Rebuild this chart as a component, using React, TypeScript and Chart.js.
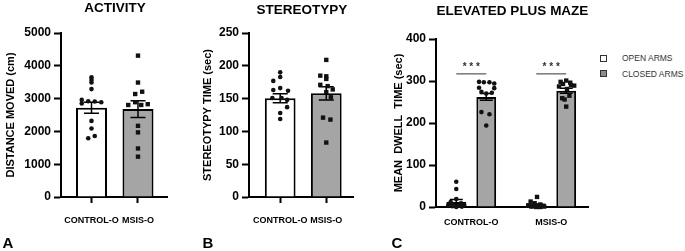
import React, { useEffect, useRef } from "react";
import { Chart, registerables } from "chart.js";

Chart.register(...registerables);

const FONT = "'Liberation Sans', Arial, Helvetica, sans-serif";
const W = 685;
const H = 251;

// ---------- shared categories ----------
const categories = ["CONTROL-O", "MSIS-O"];
const armSeries = ["OPEN ARMS", "CLOSED ARMS"];

// ---------- Panel A: activity ----------
const activityMeans = [2720, 2680];
const activitySem = [165, 255];
const activityControl = [3650, 3570, 3490, 3290, 2960, 2920, 2910, 2890, 2850, 2320, 2090, 1860, 1790];
const activityControlJitter = [0, 0, 0, 0, -0.21, -0.07, 0.07, 0.21, -0.21, 0, 0, 0.07, -0.07];
const activityMsis = [4310, 3490, 3210, 3140, 2890, 2830, 2805, 2805, 2170, 1970, 1480, 1230];
const activityMsisJitter = [0, 0, 0.09, -0.06, -0.06, 0.21, -0.21, 0.07, 0, 0, 0, 0];

// ---------- Panel B: stereotypy ----------
const stereoMeans = [150.5, 158];
const stereoSem = [7, 10];
const stereoControl = [190, 183, 177, 166, 163, 162, 151, 151, 148, 137, 128, 119];
const stereoControlJitter = [0, 0, -0.15, 0, -0.15, 0.17, -0.17, 0.03, 0.15, 0.15, 0, 0];
const stereoMsis = [209, 185, 184, 180, 171, 169, 164, 160, 152, 121, 118, 83];
const stereoMsisJitter = [0, -0.13, 0, 0, -0.13, 0.03, 0.14, 0, 0.1, -0.07, 0.09, 0];

// ---------- Panel C: elevated plus maze ----------
const openMeans = [12, 5];
const openSem = [6, 2];
const closedMeans = [262, 277];
const closedSem = [8, 6];
const openControl = [60, 43, 19, 12, 9, 7, 5, 4, 3, 2, 1, 0];
const openControlJitter = [0, 0, 0, -0.07, 0.06, -0.04, 0.1, -0.1, 0.03, -0.05, 0.07, 0];
const closedControl = [298, 297, 297, 294, 284, 283, 274, 272, 270, 226, 221, 194];
const closedControlJitter = [-0.09, -0.03, 0.04, 0.1, -0.09, 0.1, -0.06, 0.07, 0, -0.06, 0.04, 0];
const openMsis = [24, 13, 9, 6, 4, 3, 2, 2, 1, 1, 0, 0];
const openMsisJitter = [0.01, -0.07, -0.02, 0.05, -0.1, 0.09, -0.04, 0.02, 0.1, -0.06, 0, 0.05];
const closedMsis = [301, 298, 296, 293, 290, 289, 287, 281, 265, 259, 256, 239];
const closedMsisJitter = [0, -0.07, 0.05, -0.04, 0.06, 0.1, -0.09, 0.01, 0.04, -0.05, -0.02, 0];
const sigLevel = 317;
const sigText = "* * *";

// ---------- styles ----------
const WHITE = "#ffffff";
const GRAY = "#a5a5a5";
const DOT = "#111111";

const errorBarPlugin = {
  id: "errorBars",
  afterDatasetDraw(chart: any, args: any, opts: any) {
    const ds = chart.data.datasets[args.index];
    if (!ds.sem) return;
    const yScale = chart.scales.y;
    const ctx = chart.ctx;
    ctx.save();
    ctx.strokeStyle = "#000";
    ctx.lineWidth = 1.5;
    args.meta.data.forEach((bar: any, i: number) => {
      const m = ds.data[i].y;
      const s = ds.sem[i];
      const x = bar.x;
      const yt = yScale.getPixelForValue(m + s);
      const yb = yScale.getPixelForValue(Math.max(0, m - s));
      const c = opts.cap;
      ctx.beginPath();
      ctx.moveTo(x, yt);
      ctx.lineTo(x, yb);
      ctx.moveTo(x - c, yt);
      ctx.lineTo(x + c, yt);
      ctx.moveTo(x - c, yb);
      ctx.lineTo(x + c, yb);
      ctx.stroke();
    });
    ctx.restore();
  },
};

const sigPlugin = {
  id: "sig",
  afterDatasetsDraw(chart: any, _args: any, opts: any) {
    if (!opts || !opts.enabled) return;
    const yScale = chart.scales.y;
    const bars = chart.data.datasets
      .map((d: any, i: number) => ({ d, i }))
      .filter((o: any) => o.d.type === "bar");
    if (bars.length < 2) return;
    const m0 = chart.getDatasetMeta(bars[0].i);
    const m1 = chart.getDatasetMeta(bars[1].i);
    const ctx = chart.ctx;
    const y = yScale.getPixelForValue(opts.value);
    ctx.save();
    m0.data.forEach((b0: any, k: number) => {
      const b1 = m1.data[k];
      ctx.strokeStyle = "#555";
      ctx.lineWidth = 1.2;
      ctx.beginPath();
      ctx.moveTo(b0.x, y);
      ctx.lineTo(b1.x, y);
      ctx.stroke();
      ctx.fillStyle = "#333";
      ctx.font = `bold 10px ${FONT}`;
      ctx.textAlign = "center";
      ctx.textBaseline = "alphabetic";
      ctx.fillText(opts.text, (b0.x + b1.x) / 2, y - 3.5);
    });
    ctx.restore();
  },
};

type BarSet = { label: string; values: number[]; sem: number[]; fill: string | string[] };
type DotSet = { values: number[]; jitter: number[]; cat: number; group: number; shape: string };

type PanelCfg = {
  left: number;
  width: number;
  yAxisWidth: number;
  padTop: number;
  padRight: number;
  bottomY: number;
  xMin: number;
  xMax: number;
  yMax: number;
  yStep: number;
  yTitle: string;
  bars: BarSet[];
  dots: DotSet[];
  catPct: number;
  barPct: number;
  xTicks: boolean;
  xPad: number;
  cap: number;
  sig: boolean;
};

function Panel({ cfg }: { cfg: PanelCfg }) {
  const ref = useRef<HTMLCanvasElement>(null);
  useEffect(() => {
    if (!ref.current) return;
    const nGroups = cfg.bars.length;
    const groupOffset = (g: number) =>
      nGroups > 1 ? ((g + 0.5) / nGroups - 0.5) * cfg.catPct : 0;

    const barDatasets = cfg.bars.map((b) => ({
      type: "bar" as const,
      label: b.label,
      data: b.values.map((v, i) => ({ x: i, y: v })),
      sem: b.sem,
      backgroundColor: b.fill,
      borderColor: "#000",
      borderWidth: 2,
      categoryPercentage: cfg.catPct,
      barPercentage: cfg.barPct,
      order: 1,
    }));
    const dotDatasets = cfg.dots.map((d) => ({
      type: "scatter" as const,
      label: "",
      data: d.values.map((v, k) => ({ x: d.cat + groupOffset(d.group) + d.jitter[k], y: v })),
      pointStyle: d.shape,
      radius: d.shape === "rect" ? 3.1 : 2.3,
      backgroundColor: DOT,
      borderColor: DOT,
      borderWidth: 0,
      clip: false,
      order: 0,
    }));

    const chart = new Chart(ref.current, {
      type: "bar",
      data: { datasets: [...barDatasets, ...dotDatasets] as any },
      options: {
        animation: false,
        responsive: false,
        devicePixelRatio: 1,
        events: [],
        layout: { padding: { left: 0, top: cfg.padTop, right: cfg.padRight, bottom: 0 } },
        plugins: {
          legend: { display: false },
          tooltip: { enabled: false },
          errorBars: { cap: cfg.cap },
          sig: { enabled: cfg.sig, value: sigLevel, text: sigText },
        } as any,
        scales: {
          x: {
            type: "linear",
            offset: false,
            min: cfg.xMin,
            max: cfg.xMax,
            afterBuildTicks: (s: any) => {
              s.ticks = categories.map((_c, i) => ({ value: i }));
            },
            ticks: {
              callback: (_v: any, i: number) => categories[i],
              color: "#000",
              font: { family: FONT, size: 9, weight: "bold" },
              padding: cfg.xPad,
              autoSkip: false,
              maxRotation: 0,
            },
            grid: {
              offset: false,
              drawOnChartArea: false,
              drawTicks: cfg.xTicks,
              tickLength: 6,
              tickWidth: 2,
              tickColor: "#000",
            },
            border: { color: "#000", width: 2 },
            afterFit: (s: any) => {
              s.height = H - cfg.bottomY;
            },
          },
          y: {
            type: "linear",
            min: 0,
            max: cfg.yMax,
            ticks: {
              stepSize: cfg.yStep,
              callback: (v: any) => String(v),
              color: "#000",
              font: { family: FONT, size: 12, weight: "bold" },
              padding: 3,
            },
            grid: {
              drawOnChartArea: false,
              tickLength: 7,
              tickWidth: 2,
              tickColor: "#000",
            },
            border: { color: "#000", width: 2 },
            title: {
              display: true,
              text: cfg.yTitle,
              color: "#000",
              font: { family: FONT, size: 11, weight: "bold" },
              padding: { top: 4, bottom: 4 },
            },
            afterFit: (s: any) => {
              s.width = cfg.yAxisWidth;
            },
          },
        } as any,
      },
      plugins: [errorBarPlugin, sigPlugin] as any,
    });
    return () => chart.destroy();
  }, [cfg]);
  return (
    <canvas
      ref={ref}
      width={cfg.width}
      height={H}
      style={{ position: "absolute", left: cfg.left, top: 0, width: cfg.width, height: H, display: "block" }}
    />
  );
}

const panelA: PanelCfg = {
  left: 0,
  width: 172,
  yAxisWidth: 61,
  padTop: 33,
  padRight: 5,
  bottomY: 197,
  xMin: -0.656,
  xMax: 1.624,
  yMax: 5000,
  yStep: 1000,
  yTitle: "DISTANCE MOVED (cm)",
  bars: [{ label: "ACTIVITY", values: activityMeans, sem: activitySem, fill: [WHITE, GRAY] }],
  dots: [
    { values: activityControl, jitter: activityControlJitter, cat: 0, group: 0, shape: "circle" },
    { values: activityMsis, jitter: activityMsisJitter, cat: 1, group: 0, shape: "rect" },
  ],
  catPct: 1,
  barPct: 0.667,
  xTicks: true,
  xPad: 12,
  cap: 7.5,
  sig: false,
};

const panelB: PanelCfg = {
  left: 197,
  width: 160,
  yAxisWidth: 52,
  padTop: 33,
  padRight: 3,
  bottomY: 197,
  xMin: -0.677,
  xMax: 1.58,
  yMax: 250,
  yStep: 50,
  yTitle: "STEREOTYPY TIME (sec)",
  bars: [{ label: "STEREOTYPY", values: stereoMeans, sem: stereoSem, fill: [WHITE, GRAY] }],
  dots: [
    { values: stereoControl, jitter: stereoControlJitter, cat: 0, group: 0, shape: "circle" },
    { values: stereoMsis, jitter: stereoMsisJitter, cat: 1, group: 0, shape: "rect" },
  ],
  catPct: 1,
  barPct: 0.667,
  xTicks: true,
  xPad: 12,
  cap: 7.5,
  sig: false,
};

const panelC: PanelCfg = {
  left: 388,
  width: 204,
  yAxisWidth: 48,
  padTop: 39,
  padRight: 2,
  bottomY: 207,
  xMin: -0.441,
  xMax: 1.46,
  yMax: 400,
  yStep: 100,
  yTitle: "MEAN  DWELL  TIME (sec)",
  bars: [
    { label: armSeries[0], values: openMeans, sem: openSem, fill: WHITE },
    { label: armSeries[1], values: closedMeans, sem: closedSem, fill: GRAY },
  ],
  dots: [
    { values: openControl, jitter: openControlJitter, cat: 0, group: 0, shape: "circle" },
    { values: closedControl, jitter: closedControlJitter, cat: 0, group: 1, shape: "circle" },
    { values: openMsis, jitter: openMsisJitter, cat: 1, group: 0, shape: "rect" },
    { values: closedMsis, jitter: closedMsisJitter, cat: 1, group: 1, shape: "rect" },
  ],
  catPct: 0.75,
  barPct: 0.66,
  xTicks: false,
  xPad: 10,
  cap: 6.5,
  sig: true,
};

const titleStyle = (cx: number, cy: number): React.CSSProperties => ({
  position: "absolute",
  left: cx,
  top: cy,
  transform: "translate(-50%, -50%)",
  fontFamily: FONT,
  fontWeight: "bold",
  fontSize: 13.5,
  lineHeight: 1,
  whiteSpace: "nowrap",
  color: "#000",
});

const letterStyle = (cx: number, cy: number): React.CSSProperties => ({
  position: "absolute",
  left: cx,
  top: cy,
  transform: "translate(-50%, -50%)",
  fontFamily: FONT,
  fontWeight: "bold",
  fontSize: 15,
  lineHeight: 1,
  color: "#000",
});

export default function App() {
  return (
    <div
      style={{
        position: "absolute",
        left: 0,
        top: 0,
        width: W,
        height: H,
        background: "#fff",
        overflow: "hidden",
      }}
    >
      <Panel cfg={panelA} />
      <Panel cfg={panelB} />
      <Panel cfg={panelC} />
      <div style={titleStyle(115, 8)}>ACTIVITY</div>
      <div style={titleStyle(302, 9.5)}>STEREOTYPY</div>
      <div style={titleStyle(512.5, 10.5)}>ELEVATED PLUS MAZE</div>
      <div style={letterStyle(8, 242)}>A</div>
      <div style={letterStyle(208, 242)}>B</div>
      <div style={letterStyle(397, 242)}>C</div>
      {armSeries.map((name, i) => (
        <div key={name}>
          <div
            style={{
              position: "absolute",
              left: 599.5,
              top: (i === 0 ? 58 : 73.5) - 3.5,
              width: 7,
              height: 7,
              boxSizing: "border-box",
              border: "1.2px solid #333",
              background: i === 0 ? WHITE : "#8c8c8c",
            }}
          />
          <div
            style={{
              position: "absolute",
              left: 622,
              top: i === 0 ? 58 : 73.5,
              transform: "translateY(-50%)",
              fontFamily: FONT,
              fontSize: 8.5,
              lineHeight: 1,
              color: "#333",
              whiteSpace: "nowrap",
            }}
          >
            {name}
          </div>
        </div>
      ))}
    </div>
  );
}
